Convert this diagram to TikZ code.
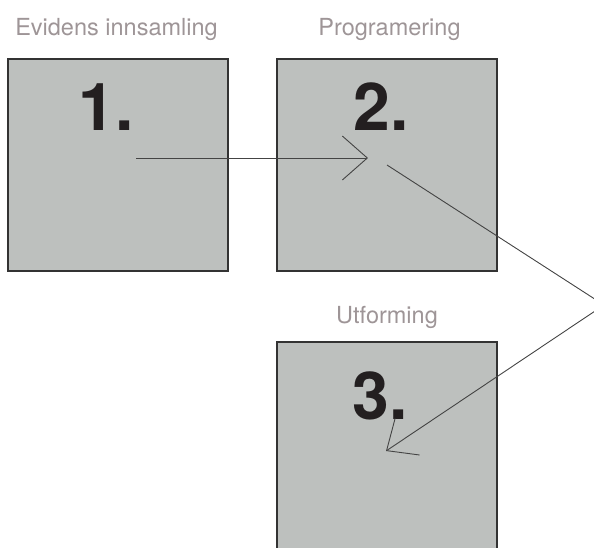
\documentclass[tikz,border=0pt]{standalone}
\usepackage{fontspec}
\setmainfont{TeX Gyre Heros}
\usetikzlibrary{arrows.meta}
\definecolor{boxfill}{HTML}{BDC0BE}
\definecolor{boxline}{HTML}{333333}
\definecolor{labelgray}{HTML}{9E9597}
\definecolor{numdark}{HTML}{231F20}
\definecolor{arrowgray}{HTML}{444444}
\tikzset{
  panel/.style={draw=boxline, line width=1.3pt, fill=boxfill},
  panellabel/.style={anchor=base, inner sep=0pt, text=labelgray, font=\fontsize{23.5}{28}\selectfont},
  panelnum/.style={anchor=base west, inner sep=0pt, text=numdark, font=\fontsize{66}{70}\selectfont\bfseries},
  flow/.style={draw=arrowgray, line width=0.9pt, -{Straight Barb[length=25pt,width=44pt,line width=0.9pt]}}
}
\begin{document}
\begin{tikzpicture}[x=1pt,y=-1pt]
\useasboundingbox (0,0) rectangle (594,547);
% panels
\draw[panel] (8,59) rectangle (228,271);
\draw[panel] (277,59) rectangle (497,271);
\draw[panel] (277,342) rectangle (497,560);
% labels
\node[panellabel] (l1) at (116.5,35) {Evidens innsamling};
\node[panellabel] (l2) at (389.5,35) {Programering};
\node[panellabel] (l3) at (387,323) {Utforming};
% numbers
\node[panelnum] (n1) at (78.5,130) {1.};
\node[panelnum] (n2) at (353.3,130) {2.};
\node[panelnum] (n3) at (352.5,419) {3.};
% connectors
\coordinate (a1s) at (136,158);
\coordinate (a1e) at (368,158);
\coordinate (a2s) at (387,165);
\coordinate (bend) at (604,305);
\coordinate (a2e) at (386,451);
\draw[flow] (a1s) -- (a1e);
\draw[flow] (a2s) -- (bend) -- (a2e);
\end{tikzpicture}
\end{document}
